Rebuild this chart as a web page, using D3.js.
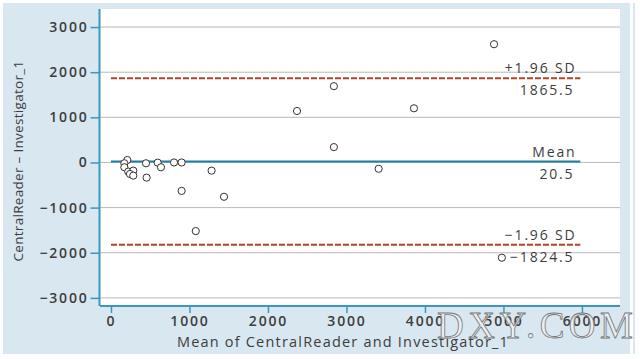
<!DOCTYPE html>
<html><head><meta charset="utf-8">
<script src="https://cdn.jsdelivr.net/npm/d3@7/dist/d3.min.js"></script>
<style>body{margin:0;background:#fff}svg{display:block}</style>
</head><body>
<svg id="c" width="640" height="359"></svg>
<script>
const meanX = [4880,2370,2840,3860,2840,3410,900,1440,1080,4980,208,170,170,220,284,242,284,446,454,595,637,803,900,1282];
const diffY = [2620,1140,1690,1200,340,-140,-630,-760,-1520,-2110,55,-18,-106,-203,-181,-255,-292,-18,-336,-4,-106,0,0,-181];
const meanDiff = 20.5;
const upperLoA = 1865.5;
const lowerLoA = -1824.5;
const lineExtent = [0, 5980];
const xTicks = [0,1000,2000,3000,4000,5000,6000];
const yTicks = [-3000,-2000,-1000,0,1000,2000,3000];
const refLabels = [
  {top:"+1.96 SD", bottom:"1865.5", v:upperLoA},
  {top:"Mean", bottom:"20.5", v:meanDiff},
  {top:"\u22121.96 SD", bottom:"\u22121824.5", v:lowerLoA}
];

const svg = d3.select("#c");
const L=100,R=620,T=9,B=306;
const x = d3.scaleLinear().domain([-140,6485]).range([L,R]);
const y = d3.scaleLinear().domain([-3180,3400]).range([B,T]);
const fmt = d => (d<0?"\u2212":"") + Math.abs(d);
const font = "'Open Sans', sans-serif";
const txt = "#3d3d3d";

// panel
svg.append("rect").attr("x",3).attr("y",3).attr("width",627).attr("height",351).attr("fill","#d8e7f0");
svg.append("rect").attr("x",633).attr("y",3).attr("width",2).attr("height",351).attr("fill","#d8e7f0");
svg.append("rect").attr("x",L).attr("y",T).attr("width",R-L).attr("height",B-T).attr("fill","#fff");

// grid
svg.append("g").selectAll("line").data(yTicks).join("line")
  .attr("x1",L).attr("x2",R).attr("y1",d=>y(d)).attr("y2",d=>y(d))
  .attr("stroke","#b9b9b9").attr("stroke-width",1);

// axes
const ya = svg.append("g").attr("transform",`translate(${L-0.5},0)`)
  .call(d3.axisLeft(y).tickValues(yTicks).tickFormat(fmt).tickSize(9).tickPadding(2));
const xa = svg.append("g").attr("transform",`translate(0,${B})`)
  .call(d3.axisBottom(x).tickValues(xTicks).tickFormat(d=>d).tickSize(7).tickPadding(3));
[ya,xa].forEach(a=>{
  a.select(".domain").attr("stroke","#3b98bd").attr("stroke-width",2);
  a.selectAll(".tick line").attr("stroke","#3b98bd").attr("stroke-width",1.5);
  a.selectAll(".tick text").attr("fill",txt).style("font-family",font)
   .style("font-size","14px").style("font-weight","600").style("letter-spacing","1.8px");
});
ya.select(".domain").attr("d",`M0,${T}V${B}`);
xa.select(".domain").attr("d",`M${L},0H${R}`);

// reference lines
svg.append("line").attr("x1",x(lineExtent[0])).attr("x2",x(lineExtent[1]))
  .attr("y1",y(meanDiff)).attr("y2",y(meanDiff)).attr("stroke","#1f7fa3").attr("stroke-width",2);
svg.append("g").selectAll("line").data([upperLoA,lowerLoA]).join("line")
  .attr("x1",x(lineExtent[0])).attr("x2",x(lineExtent[1]))
  .attr("y1",d=>y(d)).attr("y2",d=>y(d))
  .attr("stroke","#b4432a").attr("stroke-width",2).attr("stroke-dasharray","6,2");

// points
svg.append("g").selectAll("circle").data(meanX.map((m,i)=>[m,diffY[i]])).join("circle")
  .attr("cx",d=>x(d[0])).attr("cy",d=>y(d[1])).attr("r",3.6)
  .attr("fill","#fff").attr("stroke","#333").attr("stroke-width",1);

// reference labels
const rl = svg.append("g").style("font-family",font).style("font-size","14px")
  .style("letter-spacing","1.8px").attr("fill",txt).attr("text-anchor","end");
refLabels.forEach(r=>{
  rl.append("text").attr("x",x(lineExtent[1])-4).attr("y",y(r.v)-5).text(r.top);
  rl.append("text").attr("x",x(lineExtent[1])-6).attr("y",y(r.v)+17).text(r.bottom);
});

// titles
svg.append("text").attr("x",343).attr("y",347).attr("text-anchor","middle")
  .style("font-family",font).style("font-size","14.5px").style("letter-spacing","1.2px").attr("fill",txt)
  .text("Mean of CentralReader and Investigator_1");
svg.append("text").attr("transform","translate(23,161) rotate(-90)").attr("text-anchor","middle")
  .style("font-family",font).style("font-size","13.5px").style("letter-spacing","0.3px").attr("fill",txt)
  .text("CentralReader \u2013 Investigator_1");

// watermark
svg.append("text").attr("x",437).attr("y",338).attr("textLength",196)
  .style("font-family","'Liberation Serif', serif").style("font-size","37px")
  .attr("fill","#f4f4f4").attr("fill-opacity",0.7).attr("stroke","#777").attr("stroke-width",0.8)
  .text("DXY.COM");
</script>
</body></html>
